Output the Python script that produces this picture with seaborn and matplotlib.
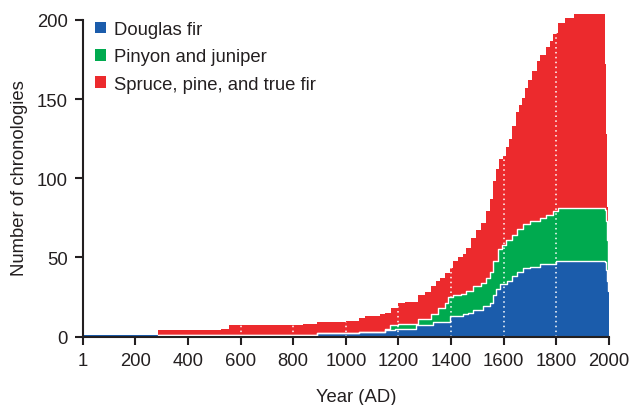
import numpy as np
import matplotlib
matplotlib.use("Agg")
import matplotlib.pyplot as plt
import seaborn as sns
from matplotlib.patches import Patch

# Number of tree-ring chronologies per group, as a step series starting at each year
years = [1, 285, 525, 557, 836, 892, 1001, 1051, 1071, 1128,
         1147, 1166, 1173, 1185, 1198, 1223, 1268, 1274, 1300, 1325,
         1331, 1344, 1350, 1357, 1376, 1389, 1395, 1408, 1427, 1439,
         1446, 1458, 1465, 1477, 1484, 1496, 1515, 1521, 1534, 1547,
         1559, 1572, 1579, 1581, 1585, 1592, 1598, 1608, 1611, 1620,
         1630, 1633, 1646, 1649, 1657, 1668, 1674, 1680, 1693, 1699,
         1706, 1725, 1737, 1761, 1776, 1788, 1800, 1807, 1833, 1867,
         1983, 1985, 1987, 1989, 1991, 1993, 1995, 1997, 1999]
douglas_fir = [1, 1, 1, 1, 1, 2, 2, 3, 3, 3,
               4, 4, 4, 5, 5, 5, 7, 7, 7, 7,
               9, 9, 9, 9, 9, 9, 13, 13, 13, 13,
               14, 14, 15, 15, 17, 17, 17, 19, 19, 21,
               26, 30, 30, 30, 33, 33, 33, 33, 35, 35,
               38, 38, 38, 41, 41, 41, 43, 43, 43, 44,
               44, 44, 46, 46, 46, 46, 48, 48, 48, 48,
               48, 47, 45, 42, 39, 35, 31, 29, 29]
pinyon_juniper = [0, 0, 0, 0, 0, 0, 0, 0, 0, 0,
                  1, 3, 3, 2, 3, 3, 1, 4, 4, 7,
                  5, 5, 9, 9, 12, 16, 12, 13, 13, 14,
                  13, 15, 14, 14, 15, 15, 17, 15, 18, 20,
                  22, 18, 25, 25, 22, 25, 25, 28, 26, 26,
                  23, 26, 26, 27, 27, 27, 28, 28, 28, 29,
                  29, 29, 29, 31, 31, 33, 31, 33, 33, 33,
                  33, 33, 32, 31, 29, 26, 21, 7, 0]
spruce_pine_fir = [0, 3, 4, 6, 7, 7, 8, 9, 10, 11,
                   10, 8, 11, 11, 13, 14, 14, 15, 17, 18,
                   18, 21, 17, 19, 19, 15, 18, 22, 24, 23,
                   25, 27, 27, 33, 30, 35, 38, 38, 42, 46,
                   50, 58, 51, 57, 57, 54, 56, 59, 59, 64,
                   64, 69, 78, 74, 78, 83, 80, 86, 91, 89,
                   95, 101, 103, 106, 110, 112, 113, 117, 120, 123,
                   115, 92, 73, 55, 37, 21, 6, 1, 0]
end_year = 2000

series_labels = ["Douglas fir", "Pinyon and juniper", "Spruce, pine, and true fir"]
series_colors = ["#1b5cab", "#00aa4f", "#ec2a2d"]
x_ticks = [1, 200, 400, 600, 800, 1000, 1200, 1400, 1600, 1800, 2000]
y_ticks = [0, 50, 100, 150, 200]
century_marks = [600, 800, 1000, 1200, 1400, 1600, 1800]

sns.set_style("ticks")
plt.rcParams["font.family"] = ["Liberation Sans", "DejaVu Sans"]
ink = "#231f20"
fs = 13.3

# Stacked layer boundaries, extended to the final year
x = np.append(years, end_year)
d = np.append(douglas_fir, douglas_fir[-1]).astype(float)
p = np.append(pinyon_juniper, pinyon_juniper[-1]).astype(float)
s = np.append(spruce_pine_fir, spruce_pine_fir[-1]).astype(float)
blue_top = d
green_top = d + p
total = green_top + s

fig = plt.figure(figsize=(6.32, 4.06), dpi=100)
ax = fig.add_axes([0.1313, 0.1687, 0.8323, 0.8069])

ax.fill_between(x, 0, blue_top, step="post", color=series_colors[0], lw=0)
ax.fill_between(x, blue_top, green_top, step="post", color=series_colors[1], lw=0)
ax.fill_between(x, green_top, total, step="post", color=series_colors[2], lw=0)

# White separators between the stacked groups (only where something lies above)
for top in (blue_top, green_top):
    sep = np.where(total > top, top, np.nan)
    sns.lineplot(x=x, y=sep, ax=ax, color="white", lw=1.0,
                 drawstyle="steps-post", estimator=None, sort=False)

# Dotted white century lines inside the filled area
idx = np.searchsorted(x, century_marks, side="right") - 1
ax.vlines(century_marks, 0, total[idx], colors="white", lw=1.1,
          linestyles=(0, (1, 2.2)))

ax.set_xlim(1, 2000)
ax.set_ylim(0, 207)
ax.set_xticks(x_ticks)
ax.set_xticklabels([str(t) for t in x_ticks])
ax.set_yticks(y_ticks)
sns.despine(ax=ax)
ax.spines["left"].set_bounds(0, 200)
ax.spines["bottom"].set_bounds(1, 2000)
for side in ("left", "bottom"):
    ax.spines[side].set_linewidth(1.5)
    ax.spines[side].set_color(ink)
ax.tick_params(axis="both", direction="out", length=6, width=1.5,
               color=ink, labelcolor=ink, labelsize=fs, pad=5)

ax.set_xlabel("Year (AD)", fontsize=fs, color=ink)
ax.set_ylabel("Number of chronologies", fontsize=fs, color=ink)
ax.xaxis.set_label_coords(0.519, -0.158)
ax.yaxis.set_label_coords(-0.104, 0.488)

handles = [Patch(facecolor=c, edgecolor="none") for c in series_colors]
ax.legend(handles, series_labels, loc="upper left",
          bbox_to_anchor=(0.0228, 0.963), frameon=False, fontsize=fs,
          handlelength=0.58, handleheight=0.58, handletextpad=0.45,
          labelspacing=0.56, borderpad=0, borderaxespad=0,
          labelcolor=ink)

fig.savefig("out.png", dpi=100)
